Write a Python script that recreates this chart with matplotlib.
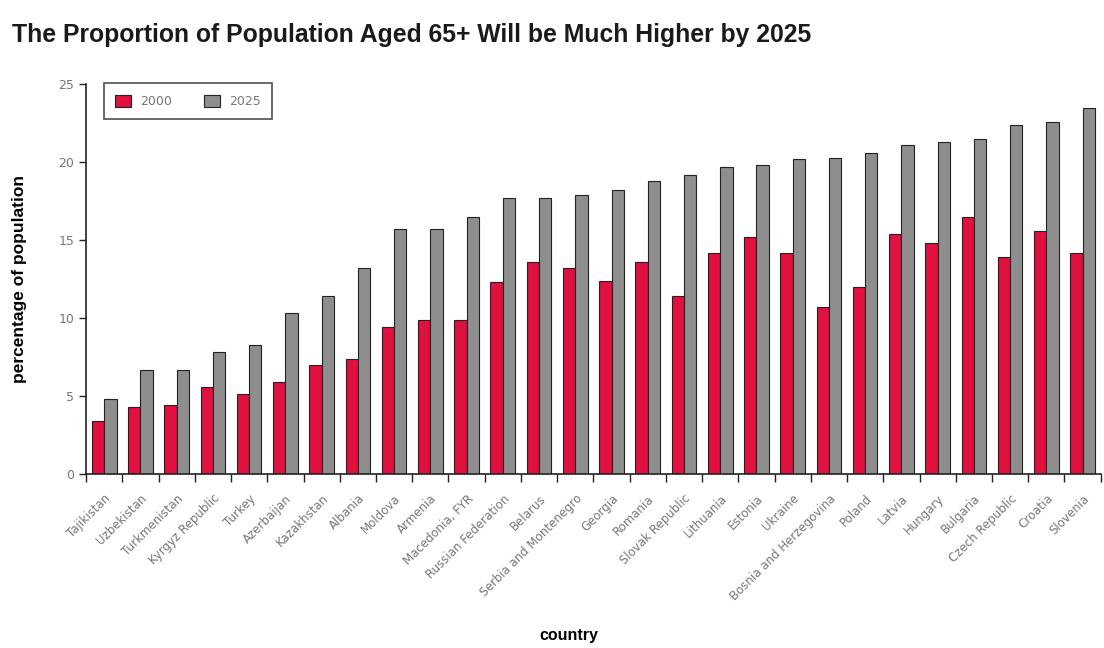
import matplotlib.pyplot as plt
import numpy as np

countries = ['Tajikistan', 'Uzbekistan', 'Turkmenistan', 'Kyrgyz Republic', 'Turkey',
             'Azerbaijan', 'Kazakhstan', 'Albania', 'Moldova', 'Armenia', 'Macedonia, FYR',
             'Russian Federation', 'Belarus', 'Serbia and Montenegro', 'Georgia', 'Romania',
             'Slovak Republic', 'Lithuania', 'Estonia', 'Ukraine', 'Bosnia and Herzegovina',
             'Poland', 'Latvia', 'Hungary', 'Bulgaria', 'Czech Republic', 'Croatia', 'Slovenia']
pct_2000 = [3.4, 4.3, 4.4, 5.6, 5.1, 5.9, 7.0, 7.4, 9.4, 9.9, 9.9, 12.3, 13.6, 13.2,
            12.4, 13.6, 11.4, 14.2, 15.2, 14.2, 10.7, 12.0, 15.4, 14.8, 16.5, 13.9, 15.6, 14.2]
pct_2025 = [4.8, 6.7, 6.7, 7.8, 8.3, 10.3, 11.4, 13.2, 15.7, 15.7, 16.5, 17.7, 17.7, 17.9,
            18.2, 18.8, 19.2, 19.7, 19.8, 20.2, 20.3, 20.6, 21.1, 21.3, 21.5, 22.4, 22.6, 23.5]
series_labels = ['2000', '2025']

red = '#e0103f'
grey = '#8e8e8e'
tick_grey = '#777777'
bold_font = ['Liberation Sans', 'DejaVu Sans']

fig = plt.figure(figsize=(11.04, 6.48), dpi=100)
ax = fig.add_axes([0.078, 0.2685, 0.919, 0.6015])

x = np.arange(len(countries))
w = 0.34
ax.bar(x - w / 2, pct_2000, w, color=red, edgecolor='#222222', linewidth=0.8, label=series_labels[0])
ax.bar(x + w / 2, pct_2025, w, color=grey, edgecolor='#222222', linewidth=0.8, label=series_labels[1])

ax.set_xlim(-0.5, len(countries) - 0.5)
ax.set_ylim(0, 25)
ax.set_yticks([0, 5, 10, 15, 20, 25])
ax.tick_params(axis='y', labelcolor=tick_grey, labelsize=9, length=5, width=1, color='#222222')

ax.set_xticks(x)
ax.set_xticklabels(countries, rotation=45, ha='right', rotation_mode='anchor',
                   color=tick_grey, fontsize=8.5)
ax.tick_params(axis='x', which='major', length=0, pad=13)
ax.set_xticks(np.arange(len(countries) + 1) - 0.5, minor=True)
ax.tick_params(axis='x', which='minor', length=6, width=1, color='#222222')

for s in ['top', 'right']:
    ax.spines[s].set_visible(False)
for s in ['left', 'bottom']:
    ax.spines[s].set_linewidth(1.2)
    ax.spines[s].set_color('#222222')

ax.set_ylabel('percentage of population', fontsize=12.5, fontweight='bold', family=bold_font)
ax.yaxis.set_label_coords(-0.058, 0.5)
ax.set_xlabel('country', fontsize=11.5, fontweight='bold', family=bold_font)
ax.xaxis.set_label_coords(0.476, -0.395)

leg = ax.legend(loc='upper left', bbox_to_anchor=(0.011, 1.018), ncol=2, frameon=True,
                fancybox=False, edgecolor='#222222', fontsize=9, handlelength=1.3,
                handleheight=1.1, columnspacing=2.6, borderpad=0.9, handletextpad=0.7)
leg.get_frame().set_linewidth(1.2)
for t in leg.get_texts():
    t.set_color(tick_grey)

fig.text(0.011, 0.946, 'The Proportion of Population Aged 65+ Will be Much Higher by 2025',
         fontsize=17.8, fontweight='bold', family=bold_font, color='#1a1a1a', va='center')

fig.savefig('out.png', dpi=100)
